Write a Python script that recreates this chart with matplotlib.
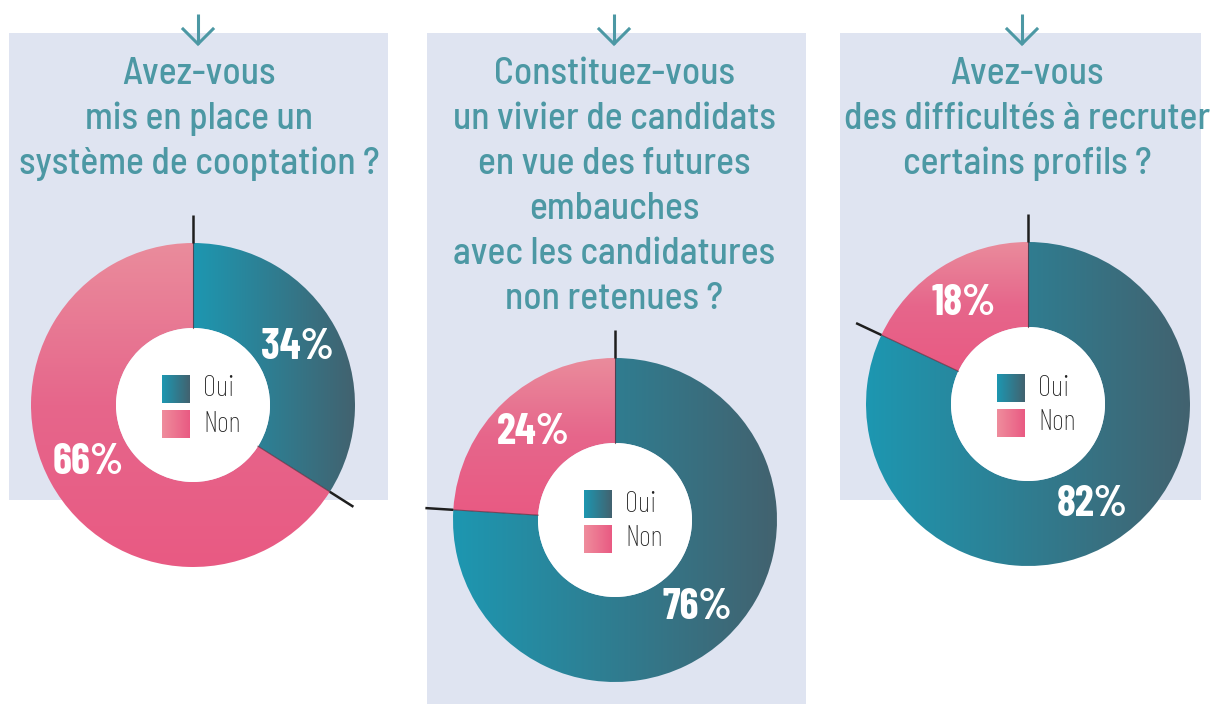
import matplotlib
matplotlib.use('Agg')
import matplotlib.pyplot as plt
import numpy as np
from matplotlib.colors import LinearSegmentedColormap
from matplotlib.patches import Rectangle, Circle

W, H = 1215, 704

# Données
questions = [
    ["Avez-vous", "mis en place un", "système de cooptation ?"],
    ["Constituez-vous", "un vivier de candidats", "en vue des futures",
     "embauches", "avec les candidatures", "non retenues ?"],
    ["Avez-vous", "des difficultés à recruter", "certains profils ?"],
]
oui = [34, 76, 82]
non = [66, 24, 18]
categories = ["Oui", "Non"]

# Mise en page (pixels, y depuis le haut)
panels = [(9, 33, 388, 500), (427, 33, 806, 704), (840, 33, 1201, 500)]
arrows_x = [198, 614, 1022]
title_x = [199, 614, 1027]
centers = [(193, 405), (615, 520), (1028, 404)]
R_OUT, R_IN = 162, 77

TEAL = '#4c98a4'
BG = '#dfe4f1'

oui_cmap = LinearSegmentedColormap.from_list('oui', ['#1d97b1', '#42626f'])
non_cmap = LinearSegmentedColormap.from_list('non', ['#ea8c9c', '#e6668b', '#e95a83'])
leg_non_cmap = LinearSegmentedColormap.from_list('lnon', ['#ef8d9d', '#e95a82'])

TITLE_FONT = ['Barlow Semi Condensed', 'Roboto Condensed', 'DejaVu Sans']
PCT_FONT = ['Barlow Condensed', 'Roboto Condensed', 'DejaVu Sans']
LEG_FONT = ['Barlow Condensed', 'Roboto Condensed', 'DejaVu Sans']

fig = plt.figure(figsize=(W / 100, H / 100), dpi=100)
ax = fig.add_axes([0, 0, 1, 1])

hgrad = np.linspace(0, 1, 256).reshape(1, -1)
vgrad = np.linspace(0, 1, 256).reshape(-1, 1)


def grad_image(x0, x1, y0, y1, cmap, horizontal, clip=None, z=2):
    arr = hgrad if horizontal else vgrad
    im = ax.imshow(arr, cmap=cmap, extent=(x0, x1, y0, y1), origin='upper',
                   aspect='auto', interpolation='bilinear', zorder=z)
    if clip is not None:
        im.set_clip_path(clip)
    return im


for i in range(3):
    x0, y0, x1, y1 = panels[i]
    ax.add_patch(Rectangle((x0, H - y1), x1 - x0, y1 - y0, color=BG, lw=0, zorder=0))

    # flèche
    xa = arrows_x[i]
    ax.plot([xa, xa], [H - 14, H - 44], color=TEAL, lw=2.2, solid_capstyle='butt')
    ax.plot([xa - 15, xa, xa + 15], [H - 29, H - 44, H - 29], color=TEAL, lw=2.2,
            solid_joinstyle='miter')

    # titre
    for k, line in enumerate(questions[i]):
        ax.text(title_x[i], H - (84 + 45 * k), line, ha='center', va='baseline',
                fontsize=27, color=TEAL, family=TITLE_FONT, fontweight='medium')

    # anneau
    cx, cy = centers[i]
    wedges, texts, autotexts = ax.pie(
        [oui[i], non[i]], center=(cx, H - cy), radius=R_OUT, startangle=90,
        counterclock=False, wedgeprops=dict(width=R_OUT - R_IN, linewidth=0),
        autopct=lambda p: f'{p:.0f}%', pctdistance=(R_OUT + R_IN) / 2 / R_OUT,
        textprops=dict(color='white', fontsize=31, fontweight='bold', family=PCT_FONT))
    for t in autotexts:
        t.set_zorder(6)
    for w, cm, horiz in zip(wedges, [oui_cmap, non_cmap], [True, False]):
        w.set_facecolor('none')
        bb = w.get_path().get_extents()
        grad_image(bb.x0, bb.x1, bb.y0, bb.y1, cm, horiz, clip=w)
    ax.add_patch(Circle((cx, H - cy), R_IN, color='white', lw=0, zorder=3))

    # traits de séparation
    for a in [90, 90 - 3.6 * oui[i]]:
        c, s = np.cos(np.radians(a)), np.sin(np.radians(a))
        ax.plot([cx + R_IN * c, cx + R_OUT * c], [H - cy + R_IN * s, H - cy + R_OUT * s],
                color='#5a2a3a', lw=0.8, alpha=0.7, zorder=4)
        ax.plot([cx + R_OUT * c, cx + (R_OUT + 28) * c],
                [H - cy + R_OUT * s, H - cy + (R_OUT + 28) * s],
                color='#1e1e1e', lw=1.8, zorder=4, solid_capstyle='butt')

    # légende
    for j, (lab, cm) in enumerate(zip(categories, [oui_cmap, leg_non_cmap])):
        top = cy - 30 + 35 * j
        grad_image(cx - 31, cx - 3, H - top - 28, H - top, cm, True, z=5)
        ax.text(cx + 10, H - top - 14, lab, ha='left', va='center', fontsize=21,
                color='#222222', family=LEG_FONT, fontweight='light', zorder=6)

ax.set_xlim(0, W)
ax.set_ylim(0, H)
ax.set_aspect('auto')
ax.axis('off')

fig.savefig('out.png', dpi=100, facecolor='white')
